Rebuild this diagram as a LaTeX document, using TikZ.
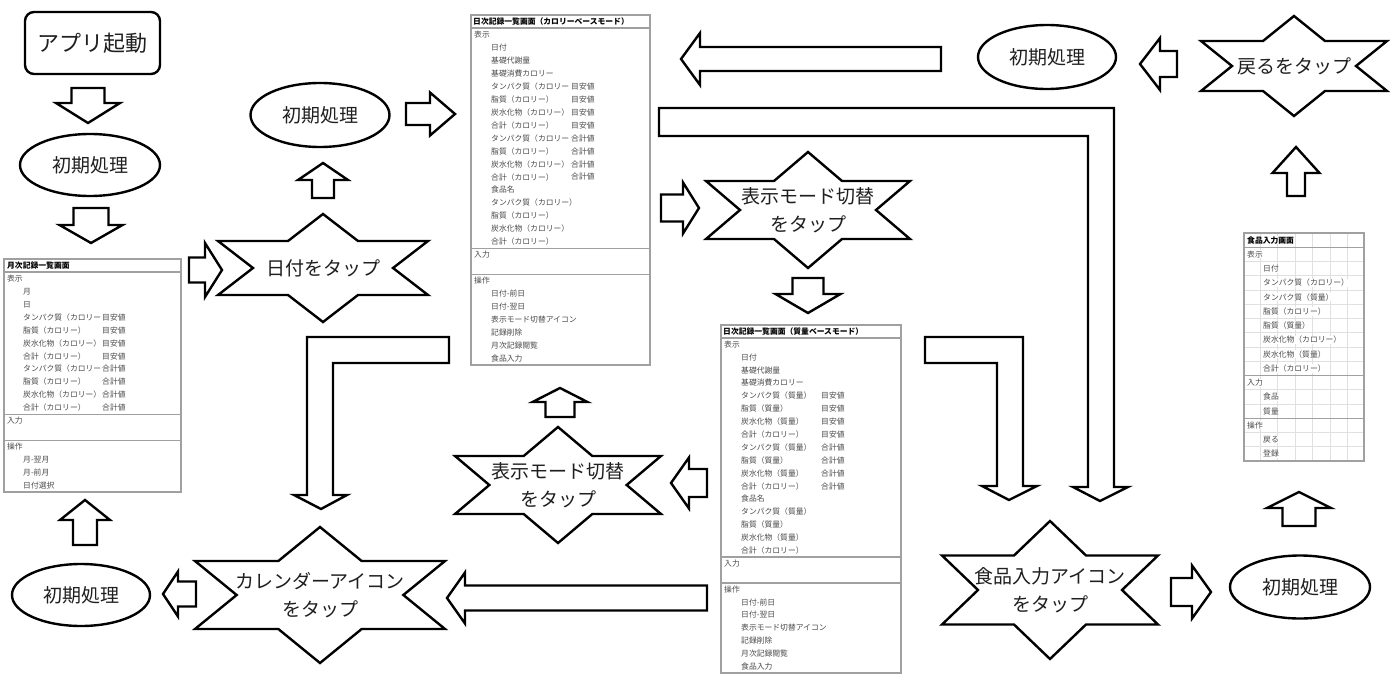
\documentclass[tikz,border=0pt]{standalone}
\usepackage{fontspec}
\setmainfont{Noto Sans CJK JP}
\usetikzlibrary{shapes.geometric,calc}
\definecolor{cellgray}{HTML}{4A4A4A}
\definecolor{framegray}{HTML}{A0A0A0}
\definecolor{gridgray}{HTML}{E0E0E0}
\tikzset{
  blk/.style={draw=black, line width=2.4pt, line join=miter, fill=white},
  lbl/.style={font=\fontsize{19}{28}\selectfont, align=center, inner sep=0pt, text=black!88},
  proc/.style={ellipse, draw=black, line width=2.4pt, minimum width=140pt, minimum height=62pt, inner sep=0pt, font=\fontsize{19}{27}\selectfont, text=black!88},
  frame/.style={draw=framegray, line width=1.4pt},
  cell/.style={anchor=west, inner xsep=0pt, inner ysep=0.5pt, font=\fontsize{7.8}{9}\selectfont, text=cellgray},
  cellf/.style={cell, fill=white},
  ttl/.style={cell, font=\bfseries\fontsize{7.8}{9}\selectfont, text=black},
}
% block arrow: name, tail, tip, shaft half width, head half width, head length
\newcommand\barrow[6]{%
  \coordinate (#1t) at (#2); \coordinate (#1h) at (#3);
  \path ($(#1h)!#6!(#1t)$) coordinate (#1b);
  \draw[blk] ($(#1t)!#4!90:(#1h)$) -- ($(#1b)!#4!90:(#1h)$) -- ($(#1b)!#5!90:(#1h)$) -- (#1h)
    -- ($(#1b)!#5!-90:(#1h)$) -- ($(#1b)!#4!-90:(#1h)$) -- ($(#1t)!#4!-90:(#1h)$) -- cycle;}
% six-pointed tap star: name, centre, half width, half height, text
\newcommand\tapstar[5]{%
  \node[lbl] (#1) at (#2) {#5};
  \draw[blk, fill=none] ([shift={(0,-#4)}]#1.center) -- ([shift={(#3/3,-#4/2)}]#1.center)
    -- ([shift={(#3,-#4/2)}]#1.center) -- ([shift={(2*#3/3,0)}]#1.center)
    -- ([shift={(#3,#4/2)}]#1.center) -- ([shift={(#3/3,#4/2)}]#1.center)
    -- ([shift={(0,#4)}]#1.center) -- ([shift={(-#3/3,#4/2)}]#1.center)
    -- ([shift={(-#3,#4/2)}]#1.center) -- ([shift={(-2*#3/3,0)}]#1.center)
    -- ([shift={(-#3,-#4/2)}]#1.center) -- ([shift={(-#3/3,-#4/2)}]#1.center) -- cycle;}

\begin{document}
\begin{tikzpicture}[x=1pt,y=-1pt]
\fill[white] (0,0) rectangle (1400,680);
\useasboundingbox (0,0) rectangle (1400,680);

% ---------- start and init ellipses ----------
\node[draw, line width=2.4pt, rounded corners=9pt, minimum width=135pt, minimum height=62pt,
      inner sep=0pt, font=\fontsize{22}{26}\selectfont, text=black!88] (start) at (92.5,43) {アプリ起動};
\node[proc] (e1) at (90,165) {初期処理};
\node[proc, minimum width=139pt, minimum height=64pt] (e2) at (320,115) {初期処理};
\node[proc, minimum width=138pt] (e3) at (81,595) {初期処理};
\node[proc, minimum width=138pt, minimum height=64pt] (e4) at (1047,57) {初期処理};
\node[proc, minimum height=63pt] (e5) at (1300,587) {初期処理};

% ---------- stars ----------
\tapstar{s1}{323,268}{105}{54}{日付をタップ}
\tapstar{s2}{808,210}{102}{58}{表示モード切替\\をタップ}
\tapstar{s3}{558,485}{103}{58}{表示モード切替\\をタップ}
\tapstar{s4}{320,595}{125}{68}{カレンダーアイコン\\をタップ}
\tapstar{s5}{1050,590}{108}{69}{食品入力アイコン\\をタップ}
\tapstar{s6}{1294,66}{93}{50}{戻るをタップ}

% ---------- straight block arrows ----------
\barrow{a1}{88,88}{88,123}{16.5pt}{32pt}{20pt}
\barrow{a2}{91,208}{91,243}{17.5pt}{31.5pt}{18pt}
\barrow{a3}{189,270}{222,270}{12.5pt}{27pt}{17pt}
\barrow{a4}{323,198}{323,163}{11pt}{25pt}{17pt}
\barrow{a5}{406,114}{455,114}{11pt}{21.5pt}{25pt}
\barrow{a6}{85,545}{85,500}{12pt}{25pt}{20pt}
\barrow{a7}{196,594}{163,594}{12.5pt}{22.5pt}{15pt}
\barrow{a8}{707,598}{447,598}{12.5pt}{25.5pt}{18pt}
\barrow{a9}{707,483}{671,483}{14pt}{25.5pt}{18pt}
\barrow{a10}{560,417}{560,388}{14.5pt}{27.5pt}{14pt}
\barrow{a11}{661,208}{699,208}{13.5pt}{25.5pt}{16pt}
\barrow{a12}{808,278}{808,313}{15.5pt}{32.5pt}{19pt}
\barrow{a13}{941,59}{681,59}{12pt}{26pt}{19pt}
\barrow{a14}{1177,64}{1140,64}{13pt}{26pt}{20pt}
\barrow{a15}{1296,196}{1296,147}{9pt}{23.5pt}{26pt}
\barrow{a16}{1299,526}{1299,492}{16.5pt}{32pt}{16pt}
\barrow{a17}{1171,592}{1211,592}{14pt}{26.5pt}{19pt}

% ---------- bent block arrows ----------
\draw[blk] (449,337) -- (307,337) -- (307,495) -- (294,495) -- (321,509) -- (347,495)
  -- (333,495) -- (333,363) -- (449,363) -- cycle;
\draw[blk] (659,108) -- (1114,108) -- (1114,487) -- (1128,487) -- (1100,501) -- (1073,487)
  -- (1088,487) -- (1088,136) -- (659,136) -- cycle;
\draw[blk] (925,337) -- (1023,337) -- (1023,486) -- (1037,486) -- (1009,500) -- (982,486)
  -- (997,486) -- (997,363) -- (925,363) -- cycle;

% ---------- monthly screen ----------
\draw[frame] (4,259) rectangle (181,492);
\foreach \k in {1,12,14} \draw[frame] (4,259+12.944*\k) -- (181,259+12.944*\k);
\node[ttl] (m0) at (7,259+6.47) {月次記録一覧画面};
\foreach \r/\dx/\t in {1/3/表示,2/19/月,3/19/日,4/19/タンパク質（カロリー,5/19/脂質（カロリー）,
    6/19/炭水化物（カロリー）,7/19/合計（カロリー）,8/19/タンパク質（カロリー,9/19/脂質（カロリー）,
    10/19/炭水化物（カロリー）,11/19/合計（カロリー）,12/3/入力,14/3/操作,15/19/月-翌月,16/19/月-前月,17/19/日付選択}
  \node[cell] (m\r) at (4+\dx, 259+12.944*\r+6.47) {\t};
\foreach \r/\t in {4/目安値,5/目安値,6/目安値,7/目安値,8/合計値,9/合計値,10/合計値,11/合計値}
  \node[cell] (mv\r) at (102, 259+12.944*\r+6.47) {\t};

% ---------- daily screen (calorie) ----------
\draw[frame] (471,15) rectangle (650,365);
\foreach \k in {1,18,20} \draw[frame] (471,15+12.963*\k) -- (650,15+12.963*\k);
\node[ttl] (c0) at (473,15+6.48) {日次記録一覧画面（カロリーベースモード）};
\foreach \r/\dx/\t in {1/3/表示,2/20/日付,3/20/基礎代謝量,4/20/基礎消費カロリー,5/20/タンパク質（カロリー,
    6/20/脂質（カロリー）,7/20/炭水化物（カロリー）,8/20/合計（カロリー）,9/20/タンパク質（カロリー,
    10/20/脂質（カロリー）,11/20/炭水化物（カロリー）,12/20/合計（カロリー）,13/20/食品名,
    14/20/タンパク質（カロリー）,15/20/脂質（カロリー）,16/20/炭水化物（カロリー）,17/20/合計（カロリー）,
    18/3/入力,20/3/操作,21/20/日付-前日,22/20/日付-翌日,23/20/表示モード切替アイコン,24/20/記録削除,
    25/20/月次記録閲覧,26/20/食品入力}
  \node[cell] (c\r) at (471+\dx, 15+12.963*\r+6.48) {\t};
\foreach \r/\t in {5/目安値,6/目安値,7/目安値,8/目安値,9/合計値,10/合計値,11/合計値,12/合計値}
  \node[cell] (cv\r) at (571, 15+12.963*\r+6.48) {\t};

% ---------- daily screen (mass) ----------
\draw[frame] (721,325) rectangle (901,673);
\foreach \k in {1,18,20} \draw[frame] (721,325+12.89*\k) -- (901,325+12.89*\k);
\node[ttl] (d0) at (723,325+6.45) {日次記録一覧画面（質量ベースモード）};
\foreach \r/\dx/\t in {1/3/表示,2/20/日付,3/20/基礎代謝量,4/20/基礎消費カロリー,5/20/タンパク質（質量）,
    6/20/脂質（質量）,7/20/炭水化物（質量）,8/20/合計（カロリー）,9/20/タンパク質（質量）,
    10/20/脂質（質量）,11/20/炭水化物（質量）,12/20/合計（カロリー）,13/20/食品名,
    14/20/タンパク質（質量）,15/20/脂質（質量）,16/20/炭水化物（質量）,17/20/合計（カロリー）,
    18/3/入力,20/3/操作,21/20/日付-前日,22/20/日付-翌日,23/20/表示モード切替アイコン,24/20/記録削除,
    25/20/月次記録閲覧,26/20/食品入力}
  \node[cell] (d\r) at (721+\dx, 325+12.89*\r+6.45) {\t};
\foreach \r/\t in {5/目安値,6/目安値,7/目安値,8/目安値,9/合計値,10/合計値,11/合計値,12/合計値}
  \node[cell] (dv\r) at (821, 325+12.89*\r+6.45) {\t};

% ---------- food input screen ----------
\foreach \k in {1,...,15} \draw[gridgray, line width=0.6pt] (1244,233+14.25*\k) -- (1364,233+14.25*\k);
\foreach \gx in {1260,1277,1295,1312,1330,1347} \draw[gridgray, line width=0.6pt] (\gx,233) -- (\gx,461);
\draw[frame] (1244,233) rectangle (1364,461);
\foreach \k in {1,10,13} \draw[frame] (1244,233+14.25*\k) -- (1364,233+14.25*\k);
\node[ttl, fill=white] (f0) at (1247,233+7.1) {食品入力画面};
\foreach \r/\dx/\t in {1/3/表示,2/19/日付,3/19/タンパク質（カロリー）,4/19/タンパク質（質量）,
    5/19/脂質（カロリー）,6/19/脂質（質量）,7/19/炭水化物（カロリー）,8/19/炭水化物（質量）,
    9/19/合計（カロリー）,10/3/入力,11/19/食品,12/19/質量,13/3/操作,14/19/戻る,15/19/登録}
  \node[cellf] (f\r) at (1244+\dx, 233+14.25*\r+7.1) {\t};
\end{tikzpicture}
\end{document}
